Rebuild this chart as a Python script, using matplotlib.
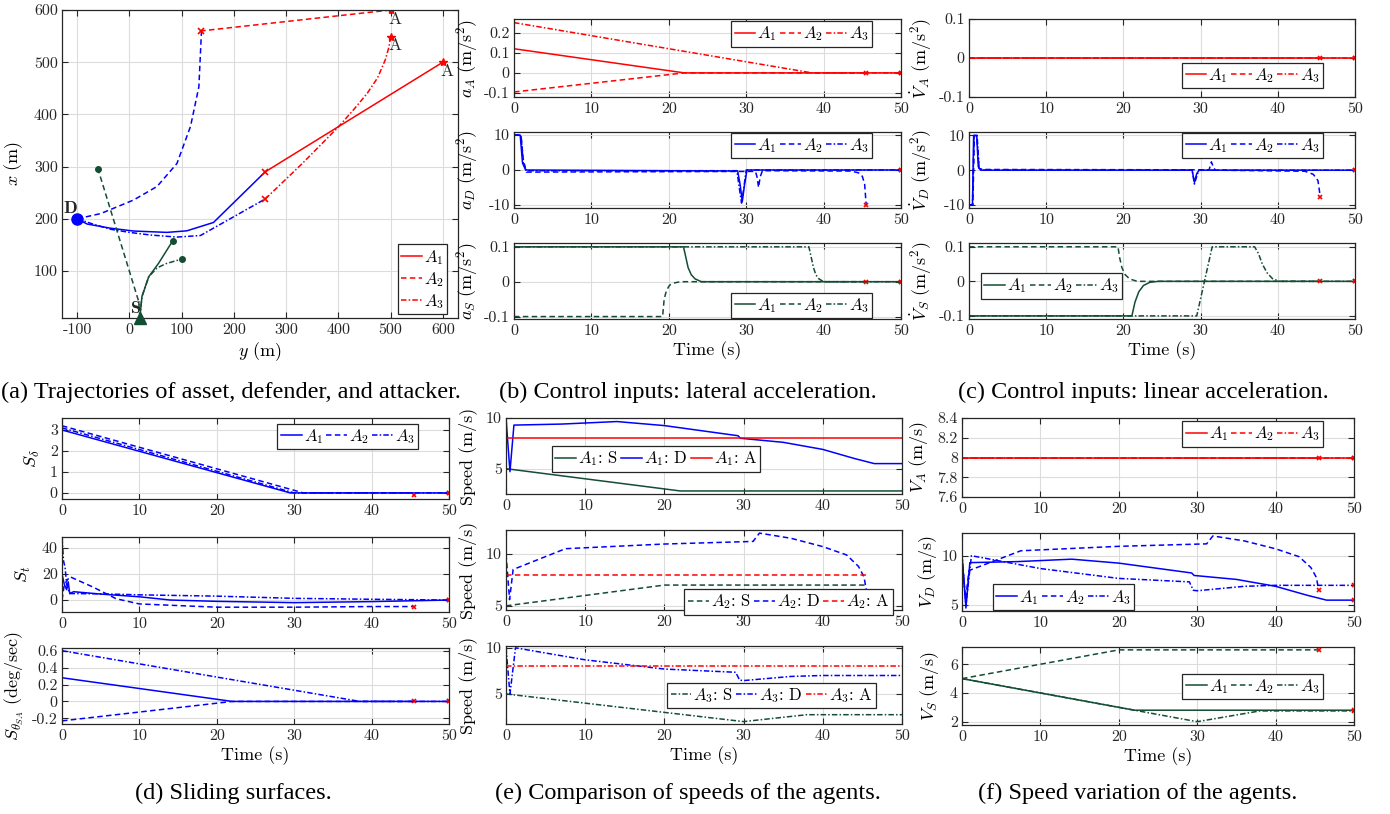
import matplotlib
matplotlib.use("Agg")
import matplotlib.pyplot as plt
from matplotlib.ticker import FuncFormatter

plt.rcParams['font.family'] = 'serif'
plt.rcParams['font.serif'] = ['cmr10']
plt.rcParams['mathtext.fontset'] = 'cm'
plt.rcParams['axes.formatter.use_mathtext'] = True

RED = '#ff0000'
BLUE = '#0000ff'
GREEN = '#134d33'
INK = '#262626'
STYLES = ['-', (0, (3.6, 2.2)), (0, (3.6, 1.4, 1.0, 1.4))]
AGENTS = ['$A_1$', '$A_2$', '$A_3$']

# ---------------- trajectories: horizontal is y (m), vertical is x (m)
att_y = [[600, 260], [500, 138], [500, 497, 490, 475, 455, 430, 400, 330, 260]]
att_x = [[500, 290], [600, 560], [549, 530, 505, 470, 440, 410, 376, 305, 238]]
def_y = [[-100, -81, -36, 8, 72, 110, 161, 260],
         [-100, -55, 8, 53, 91, 117, 133, 138],
         [-100, -70, -36, 0, 40, 91, 136, 260]]
def_x = [[200, 190, 182, 176.6, 174, 177, 193, 290],
         [200, 210, 236, 262, 306, 377, 453, 560],
         [200, 190, 180, 174, 169, 165, 168, 238]]
ast_y = [[20, 24, 37, 56, 83], [20, 18, -60], [20, 24, 37, 53, 70, 100]]
ast_x = [[10, 51, 89, 115, 158], [10, 41, 295], [10, 51, 89, 106, 114, 123]]

# ---------------- lateral acceleration
t_aA = [[0, 22, 50], [0, 22, 45.5], [0, 38.5, 50]]
aA = [[0.12, 0, 0], [-0.095, 0, 0], [0.25, 0, 0]]
t_aD = [[0, 0.8, 1.1, 1.5, 28.9, 29.2, 29.5, 29.8, 30.1, 50],
        [0, 0.9, 1.2, 1.6, 31.2, 31.4, 31.6, 31.8, 32.1, 43.5, 44.5, 45.0, 45.3, 45.5],
        [0, 0.9, 1.2, 1.6, 28.8, 29.1, 29.4, 29.7, 30.0, 50]]
aD = [[10, 10, 2, 0, -0.3, -4, -9, -4, 0, 0],
      [10, 10, 3, -0.6, -0.4, -2, -5, -2, -0.2, -0.3, -0.8, -1.8, -4, -10],
      [10, 10, 2, -0.2, -0.2, -5, -9.5, -5, 0, 0]]
t_aS = [[0, 21.9, 22.2, 22.5, 22.9, 23.4, 24.2, 50],
        [0, 19.2, 19.4, 19.7, 20.1, 20.6, 21.5, 45.5],
        [0, 38.1, 38.4, 38.7, 39.0, 39.4, 40.0, 50]]
aS = [[0.1, 0.1, 0.07, 0.04, 0.02, 0.008, 0, 0],
      [-0.1, -0.1, -0.05, -0.025, -0.01, -0.004, 0, 0],
      [0.1, 0.1, 0.07, 0.04, 0.02, 0.008, 0, 0]]

# ---------------- linear acceleration
t_dVA = [[0, 50], [0, 45.5], [0, 50]]
dVA = [[0, 0], [0, 0], [0, 0]]
t_dVD = [[0, 0.45, 0.6, 1.0, 1.2, 1.5, 28.9, 29.2, 29.5, 29.8, 50],
         [0, 0.5, 0.7, 1.0, 1.3, 1.8, 31.1, 31.4, 31.7, 32.0, 43.5, 44.6, 45.2, 45.5],
         [0, 0.45, 0.65, 1.05, 1.3, 1.6, 28.9, 29.2, 29.6, 29.9, 50]]
dVD = [[-10, -10, 10, 10, 1, 0, 0, -3.5, -1, 0, 0],
       [-10, -10, 10, 10, 0.5, 0.2, 0.1, 2.4, 0.5, 0, -0.3, -1.2, -3, -7.6],
       [-10, -10, 10, 10, 1, 0, 0, -4, -1, 0, 0]]
t_dVS = [[0, 21.1, 21.5, 22.0, 22.6, 23.4, 24.5, 50],
         [0, 19.3, 19.5, 19.8, 20.2, 20.8, 21.8, 45.5],
         [0, 29.5, 31.5, 37.0, 37.5, 38.0, 38.6, 39.3, 40.2, 50]]
dVS = [[-0.1, -0.1, -0.06, -0.03, -0.012, -0.003, 0, 0],
       [0.1, 0.1, 0.07, 0.04, 0.02, 0.007, 0, 0],
       [-0.1, -0.1, 0.1, 0.1, 0.08, 0.05, 0.025, 0.008, 0, 0]]

# ---------------- sliding surfaces
t_Sd = [[0, 29.5, 50], [0, 31.2, 45.2, 45.5], [0, 30.0, 50]]
Sd = [[3.0, 0, 0], [3.2, 0, 0, -0.1], [3.1, 0, 0]]
t_St = [[0, 0.3, 0.6, 0.8, 1.0, 1.5, 5, 10, 14, 20, 30, 40, 50],
        [0, 0.3, 1.0, 4, 7, 10, 20, 30, 40, 45.5],
        [0, 0.2, 0.4, 0.6, 1.0, 5, 10, 20, 30, 40, 50]]
St = [[20, 12, 8, 14, 5, 6.4, 4.6, 2.5, 0, -1, -2, -1.2, 0],
      [0, 12, 18, 10, 1, -3, -5.5, -5.5, -5, -5],
      [48, 30, 25, 12, 5, 4.8, 4.0, 3, 1.3, 0.6, 0]]
t_Sth = [[0, 22, 50], [0, 22, 45.5], [0, 38.5, 50]]
Sth = [[0.28, 0, 0], [-0.23, 0, 0], [0.6, 0, 0]]

# ---------------- speeds
t_VA = [[0, 50], [0, 45.5], [0, 50]]
VA = [[8, 8], [8, 8], [8, 8]]
t_VD = [[0, 0.5, 1.0, 7, 14, 20, 29.3, 29.6, 35, 40, 44, 46.5, 50],
        [0, 0.45, 0.9, 7.5, 20, 31.2, 32.0, 36, 40, 43, 44.5, 45.2, 45.5],
        [0, 0.5, 1.2, 10, 20, 29.0, 29.5, 30, 36, 40, 50]]
VD = [[10, 4.7, 9.3, 9.4, 9.65, 9.25, 8.25, 8.0, 7.6, 6.9, 6.0, 5.5, 5.5],
      [10, 5.6, 8.5, 10.5, 10.95, 11.2, 12.0, 11.5, 10.7, 9.9, 8.8, 7.8, 6.5],
      [10, 5.0, 10.0, 8.7, 7.7, 7.35, 6.5, 6.45, 6.9, 7.0, 7.0]]
t_VS = [[0, 22, 50], [0, 20, 45.5], [0, 30, 38, 50]]
VS = [[5, 2.8, 2.8], [5, 7, 7], [5, 2.0, 2.75, 2.75]]

W, H = 1390, 814
fig = plt.figure(figsize=(W / 100, H / 100), dpi=100)


def box(l, t, r, b):
    ax = fig.add_axes([l / W, 1 - b / H, (r - l) / W, (b - t) / H])
    ax.px = (l, r)
    return ax


# plain hyphen for negatives, as in the printed figure
fmt = FuncFormatter(lambda v, p: '%g' % v)


def style(ax, yt, ylim, xt=range(0, 51, 10), xlim=(0, 50)):
    ax.set_xlim(xlim)
    ax.set_ylim(ylim)
    ax.set_xticks(list(xt))
    ax.set_yticks(yt)
    ax.xaxis.set_major_formatter(fmt)
    ax.yaxis.set_major_formatter(fmt)
    ax.grid(True, color='#dcdcdc', lw=0.8)
    ax.set_axisbelow(True)
    ax.tick_params(direction='in', top=True, right=True, length=4, width=0.8,
                   labelsize=11.5, colors=INK)
    ax.tick_params(axis='y', pad=3)
    ax.tick_params(axis='x', pad=4)
    for s in ax.spines.values():
        s.set_color(INK)
        s.set_linewidth(0.9)


def ylab(ax, text, right):
    # right edge of the rotated label sits at pixel column `right`
    l, r = ax.px
    ax.set_ylabel(text, fontsize=13)
    ax.yaxis.set_label_coords((right - l) / (r - l), 0.5)


def legend(ax, loc, anchor, ncol=3):
    lg = ax.legend(loc=loc, bbox_to_anchor=anchor, ncol=ncol, fontsize=12,
                   frameon=True, fancybox=False, framealpha=1, edgecolor=INK,
                   handlelength=1.25, handletextpad=0.12, columnspacing=0.2,
                   borderpad=0.2, borderaxespad=0, labelspacing=0.2)
    lg.get_frame().set_linewidth(0.9)


def agents(ax, ts, vs, color):
    for t, v, ls, lab in zip(ts, vs, STYLES, AGENTS):
        ax.plot(t, v, color=color, ls=ls, lw=1.1, label=lab)
        ax.plot(t[-1], v[-1], 'x', color=RED, ms=3.5, mew=1.2)


def speeds(ax, k, tag):
    for t, v, c, who in [(t_VS[k], VS[k], GREEN, 'S'), (t_VD[k], VD[k], BLUE, 'D'),
                         (t_VA[k], VA[k], RED, 'A')]:
        ax.plot(t, v, color=c, ls=STYLES[k], lw=1.1, label=tag + ': ' + who)


# (a) trajectories
ax = box(62, 10, 458, 318)
for k in range(3):
    ax.plot(att_y[k], att_x[k], color=RED, ls=STYLES[k], lw=1.1, label=AGENTS[k])
for k in range(3):
    ax.plot(def_y[k], def_x[k], color=BLUE, ls=STYLES[k], lw=1.1)
    ax.plot(ast_y[k], ast_x[k], color=GREEN, ls=STYLES[k], lw=1.1)
    ax.plot(att_y[k][0], att_x[k][0], '*', color=RED, ms=6)
    ax.plot(att_y[k][-1], att_x[k][-1], 'x', color=RED, ms=4, mew=1.2)
    ax.plot(ast_y[k][-1], ast_x[k][-1], 'o', color=GREEN, ms=4)
    ax.text(att_y[k][0] + 9, att_x[k][0] - 17, r'$\mathrm{A}$', fontsize=12.5, color=INK,
            ha='center', va='center')
ax.plot(def_y[0][0], def_x[0][0], 'o', color=BLUE, ms=8)
ax.plot(ast_y[0][0], ast_x[0][0], '^', color=GREEN, ms=8, clip_on=False, zorder=5)
ax.text(-113, 220, r'$\mathbf{D}$', fontsize=13, ha='center', va='center', color=INK)
ax.text(12, 30, r'$\mathbf{S}$', fontsize=13, ha='center', va='center', color=INK)
style(ax, range(100, 601, 100), (10, 600), xt=range(-100, 601, 100), xlim=(-129, 629))
ax.set_xlabel(r'$y\ (\mathrm{m})$', fontsize=13, labelpad=2)
ylab(ax, r'$x\ (\mathrm{m})$', 25)
legend(ax, 'lower right', (0.972, 0.012), ncol=1)

rows_top = [(19, 97), (132, 208), (243, 319)]

# (b) lateral acceleration
specs_b = [(t_aA, aA, RED, [-0.1, 0, 0.1, 0.2], (-0.12, 0.268), r'$a_A\ (\mathrm{m/s^2})$',
            'upper right', (0.925, 0.974)),
           (t_aD, aD, BLUE, [-10, 0, 10], (-10.9, 10.9), r'$a_D\ (\mathrm{m/s^2})$',
            'upper right', (0.925, 0.987)),
           (t_aS, aS, GREEN, [-0.1, 0, 0.1], (-0.107, 0.111), r'$a_S\ (\mathrm{m/s^2})$',
            'lower right', (0.925, 0.013))]
for (top, bot), (ts, vs, c, yt, yl, lab, loc, anc) in zip(rows_top, specs_b):
    ax = box(514, top, 901, bot)
    agents(ax, ts, vs, c)
    style(ax, yt, yl)
    ylab(ax, lab, 480)
    legend(ax, loc, anc)
ax.set_xlabel('Time (s)', fontsize=13, labelpad=2)

# (c) linear acceleration
specs_c = [(t_dVA, dVA, RED, [-0.1, 0, 0.1], (-0.1, 0.1), r'$\dot{V}_A\ (\mathrm{m/s^2})$',
            'lower right', (0.917, 0.115)),
           (t_dVD, dVD, BLUE, [-10, 0, 10], (-10.9, 11.0), r'$\dot{V}_D\ (\mathrm{m/s^2})$',
            'upper right', (0.917, 0.987)),
           (t_dVS, dVS, GREEN, [-0.1, 0, 0.1], (-0.109, 0.111), r'$\dot{V}_S\ (\mathrm{m/s^2})$',
            'upper left', (0.031, 0.605))]
for (top, bot), (ts, vs, c, yt, yl, lab, loc, anc) in zip(rows_top, specs_c):
    ax = box(969, top, 1355, bot)
    agents(ax, ts, vs, c)
    style(ax, yt, yl)
    ylab(ax, lab, 934)
    legend(ax, loc, anc)
ax.set_xlabel('Time (s)', fontsize=13, labelpad=2)

# (d) sliding surfaces
rows_d = [(418, 499), (537, 612), (648, 724)]
specs_d = [(t_Sd, Sd, [0, 1, 2, 3], (-0.29, 3.57), r'$S_\delta$', 42),
           (t_St, St, [0, 20, 40], (-9.2, 48.5), r'$S_t$', 33),
           (t_Sth, Sth, [-0.2, 0, 0.2, 0.4, 0.6], (-0.267, 0.632),
            r'$S_{\theta_{SA}}\ (\mathrm{deg/sec})$', 26)]
for i, ((top, bot), (ts, vs, yt, yl, lab, lx)) in enumerate(zip(rows_d, specs_d)):
    ax = box(62, top, 449, bot)
    agents(ax, ts, vs, BLUE)
    style(ax, yt, yl)
    ylab(ax, lab, lx)
    if i == 0:
        legend(ax, 'upper right', (0.92, 0.93))
ax.set_xlabel('Time (s)', fontsize=13, labelpad=2)

# (e) speeds compared per attacker
rows_e = [(418, 494), (530, 610), (646, 724)]
specs_e = [((2.5, 10.0), 'upper left', (0.116, 0.63)),
           ((4.6, 12.3), 'lower right', (0.977, -0.06)),
           ((1.74, 10.2), 'lower left', (0.407, 0.205))]
for k, ((top, bot), (yl, loc, anc)) in enumerate(zip(rows_e, specs_e)):
    ax = box(506, top, 902, bot)
    speeds(ax, k, AGENTS[k])
    style(ax, [5, 10], yl)
    ylab(ax, 'Speed (m/s)', 477)
    legend(ax, loc, anc)
ax.set_xlabel('Time (s)', fontsize=13, labelpad=2)

# (f) speed variation per agent
rows_f = [(418, 497), (533, 611), (647, 725)]
specs_f = [(t_VA, VA, RED, [7.6, 7.8, 8, 8.2, 8.4], (7.6, 8.4), r'$V_A\ (\mathrm{m/s})$',
            'upper right', (0.921, 0.962), 930),
           (t_VD, VD, BLUE, [5, 10], (4.4, 12.3), r'$V_D\ (\mathrm{m/s})$',
            'lower left', (0.079, 0.013), 939),
           (t_VS, VS, GREEN, [2, 4, 6], (1.77, 7.2), r'$V_S\ (\mathrm{m/s})$',
            'upper right', (0.921, 0.654), 941)]
for (top, bot), (ts, vs, c, yt, yl, lab, loc, anc, lx) in zip(rows_f, specs_f):
    ax = box(962, top, 1354, bot)
    agents(ax, ts, vs, c)
    style(ax, yt, yl)
    ylab(ax, lab, lx)
    legend(ax, loc, anc)
ax.set_xlabel('Time (s)', fontsize=13, labelpad=2)

captions = [(231, 392, '(a) Trajectories of asset, defender, and attacker.'),
            (688, 392, '(b) Control inputs: lateral acceleration.'),
            (1143, 392, '(c) Control inputs: linear acceleration.'),
            (233, 793, '(d) Sliding surfaces.'),
            (688, 793, '(e) Comparison of speeds of the agents.'),
            (1138, 793, '(f) Speed variation of the agents.')]
for cx, cy, txt in captions:
    fig.text(cx / W, 1 - cy / H, txt, ha='center', va='center', fontsize=17.5,
             family='Liberation Serif', color='black')

fig.savefig('out.png', dpi=100)
